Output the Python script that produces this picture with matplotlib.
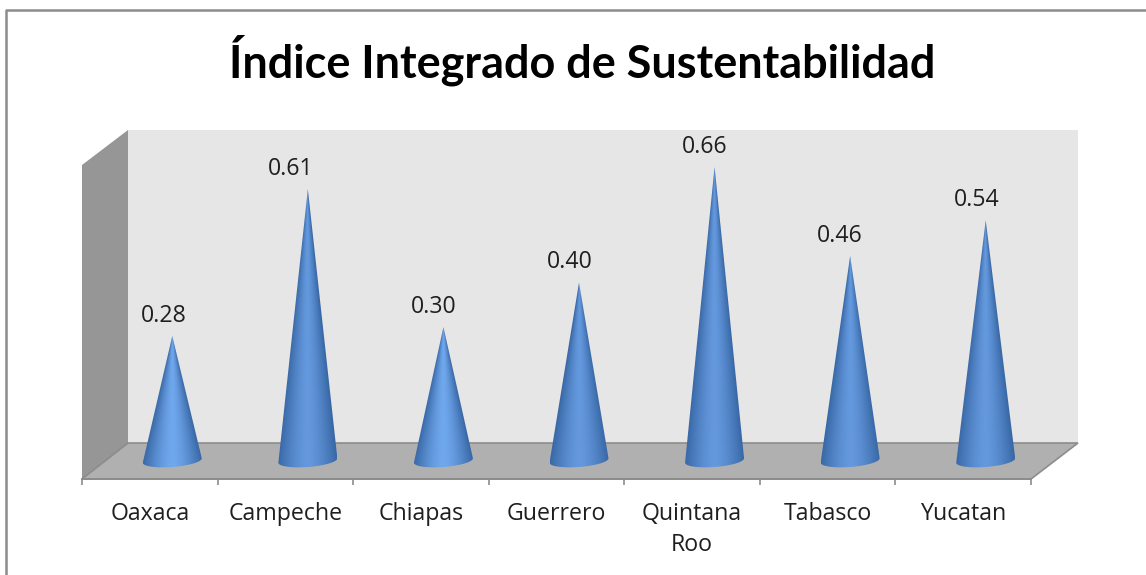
import numpy as np
import matplotlib
matplotlib.use("Agg")
import matplotlib.pyplot as plt
from matplotlib.patches import Polygon

# Datos
estados = ["Oaxaca", "Campeche", "Chiapas", "Guerrero", "Quintana\nRoo", "Tabasco", "Yucatan"]
valores = [0.28, 0.61, 0.30, 0.40, 0.66, 0.46, 0.54]
titulo = "Índice Integrado de Sustentabilidad"

# Desplazamiento de cada etiqueta respecto a la punta del cono (px)
desp_etiqueta = [-8, -17, -10, -9, -10, -10, -9]

W, H = 1146, 575
PX_POR_UNIDAD = 444.7
Y_CERO = 460.5
X0, X1 = 82, 1031
Y_ABAJO, Y_ARRIBA = 479, 130
FUENTE = ['Open Sans', 'DejaVu Sans']

plt.rcParams['font.family'] = ['Lato', 'DejaVu Sans']
fig = plt.figure(figsize=(W / 100, H / 100), dpi=100, facecolor='white')

# Fondo 3D en pixeles
fondo = fig.add_axes([0, 0, 1, 1])
fondo.set_xlim(0, W)
fondo.set_ylim(H, 0)
fondo.axis('off')
fondo.plot([6, 6, W], [H, 10, 10], color='#8c8c8c', lw=1.8)
fondo.add_patch(Polygon([(128, 130), (1078, 130), (1078, 443), (128, 443)], fc='#e6e6e6', ec='none'))
fondo.add_patch(Polygon([(82, 165), (128, 130), (128, 443), (82, 479)], fc='#969696', ec='none'))
fondo.add_patch(Polygon([(128, 443), (1078, 443), (1031, 479), (82, 479)], fc='#b0b0b0', ec='#8c8c8c', lw=1.2))

# Ejes de datos
ax = fig.add_axes([X0 / W, 1 - Y_ABAJO / H, (X1 - X0) / W, (Y_ABAJO - Y_ARRIBA) / H])
ax.patch.set_alpha(0)
for lado in ['top', 'left', 'right']:
    ax.spines[lado].set_visible(False)
ax.spines['bottom'].set_color('#8c8c8c')
ax.spines['bottom'].set_linewidth(1.4)
ax.set_yticks([])
ax.set_xticks(np.arange(0.5, 7), estados, fontsize=16.7, color='#1f1f1f', family=FUENTE, linespacing=1.42)
ax.set_xticks(np.arange(0, 8), minor=True)
ax.tick_params(axis='x', which='major', length=0, pad=16.5)
ax.tick_params(axis='x', which='minor', length=4.5, width=1.2, color='#8c8c8c')

# Conos: degradado por filas, recortado con el contorno
OSCURO = np.array([0x39, 0x68, 0xa6]) / 255
desp = 22.5 / (X1 - X0) * 7
rx = 29.5 / (X1 - X0) * 7
ry = 6.5 / PX_POR_UNIDAD
inclina = 2.2 / PX_POR_UNIDAD
for i, v in enumerate(valores):
    cx = i + 0.5 + desp
    claro = np.array([0x70, 0xa8, 0xee]) / 255 if v < 0.35 else np.array([0x64, 0x99, 0xde]) / 255
    t = np.linspace(0, np.pi, 40)
    arco = [(cx - rx * np.cos(a), -ry * np.sin(a) - inclina * np.cos(a)) for a in t]
    cono = Polygon([(cx, v)] + arco, closed=True, fc='none', ec='none')
    ax.add_patch(cono)
    yy = np.linspace(-ry - inclina, v, 300)
    xx = np.linspace(cx - rx, cx + rx, 120)
    mx, my = np.meshgrid(xx, yy)
    ancho = np.maximum(rx * (v - np.maximum(my, 0)) / v, 1e-6)
    u = np.clip(np.abs(mx - cx) / ancho, 0, 1)
    k = (1 - u ** 1.5)[..., None]
    img = OSCURO + (claro - OSCURO) * k
    im = ax.imshow(img, extent=[cx - rx, cx + rx, yy[0], yy[-1]], origin='lower', aspect='auto', zorder=2)
    im.set_clip_path(cono)
    ax.annotate(f"{v:.2f}", (cx, v), xytext=(desp_etiqueta[i] * 0.72, 14.5), textcoords='offset points',
                ha='center', va='center', fontsize=16.7, color='#1f1f1f', family=FUENTE, zorder=3)
ax.set_xlim(0, 7)
ax.set_ylim((Y_CERO - Y_ABAJO) / PX_POR_UNIDAD, (Y_CERO - Y_ARRIBA) / PX_POR_UNIDAD)

fig.text(582 / W, 1 - 60 / H, titulo, ha='center', va='center', fontsize=32.4, fontweight='bold', color='black')

fig.savefig("out.png", dpi=100)
